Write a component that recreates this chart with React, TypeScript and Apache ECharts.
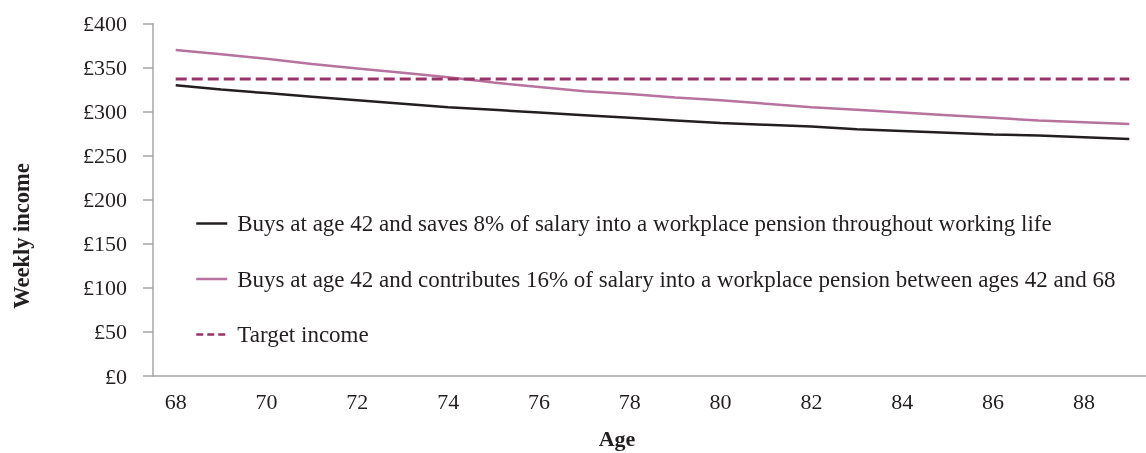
import React, { useEffect, useRef } from "react";
import * as echarts from "echarts";

const ages = ["68","69","70","71","72","73","74","75","76","77","78","79","80","81","82","83","84","85","86","87","88","89"];
const seriesNames = [
  "Buys at age 42 and saves 8% of salary into a workplace pension throughout working life",
  "Buys at age 42 and contributes 16% of salary into a workplace pension between ages 42 and 68",
  "Target income",
];
const saves8 = [330, 325, 321, 317, 313, 309, 305, 302, 299, 296, 293, 290, 287, 285, 283, 280, 278, 276, 274, 273, 271, 269];
const contributes16 = [370, 365, 360, 354, 349, 344, 339, 333, 328, 323, 320, 316, 313, 309, 305, 302, 299, 296, 293, 290, 288, 286];
const target = [337, 337, 337, 337, 337, 337, 337, 337, 337, 337, 337, 337, 337, 337, 337, 337, 337, 337, 337, 337, 337, 337];

const FONT = "'Liberation Serif', 'DejaVu Serif', serif";

export default function App() {
  const ref = useRef<HTMLDivElement>(null);
  useEffect(() => {
    if (!ref.current) return;
    const chart = echarts.init(ref.current, null, { renderer: "svg" });
    chart.setOption({
      animation: false,
      textStyle: { fontFamily: FONT },
      grid: { left: 153, top: 23.5, height: 352.5, width: 999 },
      legend: {
        orient: "vertical",
        left: 190,
        top: 207,
        itemGap: 32.5,
        itemWidth: 31,
        itemHeight: 14,
        itemStyle: { opacity: 0 },
        lineStyle: { width: 2.5 },
        textStyle: { fontFamily: FONT, fontSize: 23, color: "#231f20", padding: [0, 0, 0, 5] },
        data: [
          { name: seriesNames[0] },
          { name: seriesNames[1] },
          { name: seriesNames[2], lineStyle: { type: [7, 4], width: 2.5 } },
        ],
      },
      xAxis: {
        type: "category",
        data: ages,
        boundaryGap: true,
        axisLine: { lineStyle: { color: "#a6a6a6", width: 1.5 } },
        axisTick: { show: false },
        axisLabel: { interval: 1, margin: 14, fontSize: 22, color: "#231f20", fontFamily: FONT },
      },
      yAxis: {
        type: "value",
        min: 0,
        max: 400,
        interval: 50,
        axisLine: { show: true, lineStyle: { color: "#a6a6a6", width: 1.5 } },
        axisTick: { show: true, length: 10, lineStyle: { color: "#a6a6a6", width: 1.5 } },
        splitLine: { show: false },
        axisLabel: { margin: 26, fontSize: 22, color: "#231f20", fontFamily: FONT, formatter: (v: number) => "£" + v },
      },
      series: [
        {
          name: seriesNames[0],
          type: "line",
          data: saves8,
          symbol: "none",
          lineStyle: { color: "#231f20", width: 2.5 },
          itemStyle: { color: "#231f20" },
        },
        {
          name: seriesNames[1],
          type: "line",
          data: contributes16,
          symbol: "none",
          lineStyle: { color: "#b5739d", width: 2.5 },
          itemStyle: { color: "#b5739d" },
        },
        {
          name: seriesNames[2],
          type: "line",
          data: target,
          symbol: "none",
          lineStyle: { color: "#993366", width: 3, type: [11, 5] },
          itemStyle: { color: "#993366" },
        },
      ],
      graphic: [
        {
          type: "text",
          x: 617,
          y: 438,
          style: { text: "Age", fontFamily: FONT, fontSize: 22, fontWeight: "bold", fill: "#231f20", align: "center", verticalAlign: "middle" },
        },
        {
          type: "text",
          x: 21,
          y: 236,
          rotation: Math.PI / 2,
          style: { text: "Weekly income", fontFamily: FONT, fontSize: 22.5, fontWeight: "bold", fill: "#231f20", align: "center", verticalAlign: "middle" },
        },
      ],
    });
    return () => chart.dispose();
  }, []);
  return <div ref={ref} style={{ position: "fixed", left: 0, top: 0, width: 1160, height: 453 }} />;
}
